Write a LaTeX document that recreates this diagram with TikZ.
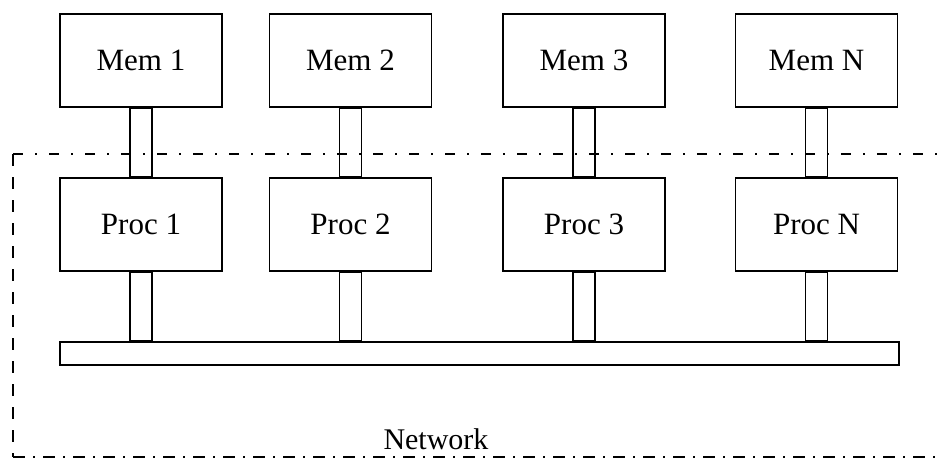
\documentclass[tikz,border=0pt]{standalone}
\usepackage{fontspec}
\setmainfont{Liberation Serif}
\begin{document}
\begin{tikzpicture}[x=1pt,y=1pt,
  unit/.style={draw, line width=1.6pt, minimum width=162pt, minimum height=93pt,
    inner sep=0pt, font=\fontsize{31}{36}\selectfont},
  link/.style={draw, line width=1.6pt},
  ]
  \useasboundingbox (0,0) rectangle (937,459);
  % memories
  \node[unit] (m1) at (141,398.5) {Mem 1};
  \node[unit] (m2) at (350.5,398.5) {Mem 2};
  \node[unit] (m3) at (584,398.5) {Mem 3};
  \node[unit] (mN) at (816.5,398.5) {Mem N};
  % processors
  \node[unit] (p1) at (141,234.5) {Proc 1};
  \node[unit] (p2) at (350.5,234.5) {Proc 2};
  \node[unit] (p3) at (584,234.5) {Proc 3};
  \node[unit] (pN) at (816.5,234.5) {Proc N};
  % bus
  \node[draw, line width=1.6pt, minimum width=839pt, minimum height=23pt,
    inner sep=0pt] (bus) at (479.5,105.5) {};
  \foreach \i in {1,2,3,N} {
    \draw[link] ([xshift=-11pt]m\i.south) rectangle ([xshift=11pt]p\i.north);
    \draw[link] ([xshift=-11pt]p\i.south) rectangle ([xshift=11pt]p\i.south |- bus.north);
  }
  % network boundary
  \coordinate (tl) at (13,305);
  \coordinate (tr) at (937,305);
  \coordinate (bl) at (13,2);
  \coordinate (br) at (937,2);
  \draw[line width=2pt, dash pattern=on 10pt off 12pt on 2pt off 12pt] (tl) -- (tr);
  \draw[line width=2.6pt, dash pattern=on 12pt off 11pt] (tl) -- (bl);
  \draw[line width=2pt, dash pattern=on 12pt off 8pt on 2pt off 8pt] (bl) -- (br);
  \node[anchor=base, inner sep=0pt, font=\fontsize{30}{36}\selectfont] (net) at (436,10) {Network};
\end{tikzpicture}
\end{document}
